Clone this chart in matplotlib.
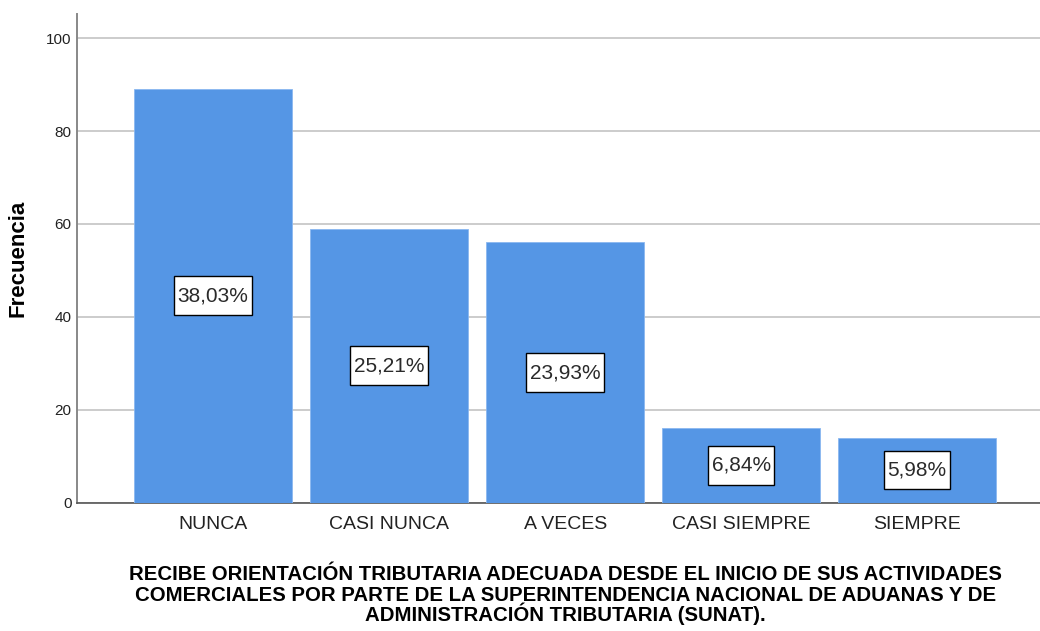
import matplotlib
matplotlib.use("Agg")
import matplotlib.pyplot as plt

# Datos (N = 234)
categorias = ["NUNCA", "CASI NUNCA", "A VECES", "CASI SIEMPRE", "SIEMPRE"]
frecuencias = [89, 59, 56, 16, 14]
porcentajes = ["38,03%", "25,21%", "23,93%", "6,84%", "5,98%"]
y_ticks = [0, 20, 40, 60, 80, 100]

titulo_x = ["RECIBE ORIENTACIÓN TRIBUTARIA ADECUADA DESDE EL INICIO DE SUS ACTIVIDADES",
            "COMERCIALES POR PARTE DE LA SUPERINTENDENCIA NACIONAL DE ADUANAS Y DE",
            "ADMINISTRACIÓN TRIBUTARIA (SUNAT)."]

plt.rcParams['font.family'] = ['Liberation Sans', 'DejaVu Sans']

fig = plt.figure(figsize=(10.4, 6.31), dpi=100)
ax = fig.add_axes([0.074, 0.2036, 0.926, 0.7742])

x = range(len(categorias))
ax.bar(x, frecuencias, width=0.897, color='#5596e5', edgecolor='#8ab8f0',
       linewidth=0.6, zorder=3)

# etiquetas de porcentaje dentro de cada barra
for i, (f, p) in enumerate(zip(frecuencias, porcentajes)):
    ax.text(i, f / 2, p, ha='center', va='center', fontsize=15, color='#2a2a2a',
            zorder=4,
            bbox=dict(boxstyle='square,pad=0.17', mutation_aspect=2.8,
                      facecolor='white', edgecolor='black', linewidth=1.0))

ax.set_xlim(-0.774, 4.698)
ax.set_ylim(0, 105.2)
ax.set_yticks(y_ticks)
ax.set_xticks(list(x))
ax.set_xticklabels(categorias, fontsize=14, color='#222222')
ax.tick_params(axis='y', labelsize=11, colors='#222222', length=0, pad=4)
ax.tick_params(axis='x', length=0, pad=10)

ax.yaxis.grid(True, color='#c8c8c8', linewidth=1.3, zorder=0)
ax.set_axisbelow(True)

for s in ['top', 'right']:
    ax.spines[s].set_visible(False)
ax.spines['left'].set_color('#888888')
ax.spines['left'].set_linewidth(1.4)
ax.spines['bottom'].set_color('#555555')
ax.spines['bottom'].set_linewidth(1.2)

ax.set_ylabel("Frecuencia", fontsize=16, fontweight='bold', color='black')
ax.yaxis.set_label_coords(-0.061, 0.5)
ax.yaxis.label.set_va('center')

# título del eje x en tres líneas con interlineado uniforme
for k, linea in enumerate(titulo_x):
    ax.text(0.507, -0.1587 - k * 0.042, linea, transform=ax.transAxes,
            ha='center', va='baseline', fontsize=14.7, fontweight='bold',
            color='black')

fig.savefig("out.png", dpi=100)
